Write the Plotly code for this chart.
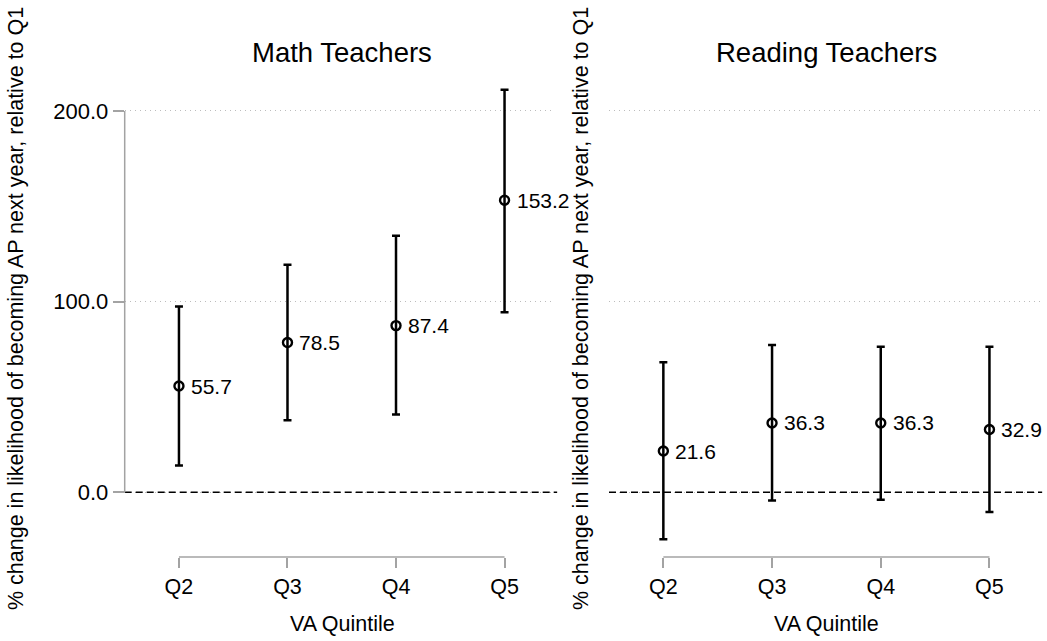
import plotly.graph_objects as go

# ---- data ----
categories = ["Q2", "Q3", "Q4", "Q5"]
x_pos = [2, 3, 4, 5]
math_est = [55.7, 78.5, 87.4, 153.2]
math_hi = [97.4, 119.3, 134.5, 211.1]
math_lo = [14.0, 37.7, 40.8, 94.4]
read_est = [21.6, 36.3, 36.3, 32.9]
read_hi = [68.2, 77.2, 76.3, 76.3]
read_lo = [-24.7, -4.4, -3.9, -10.4]
y_ticks = [0, 100, 200]
panel_titles = ["Math Teachers", "Reading Teachers"]
y_title = "% change in likelihood of becoming AP next year, relative to Q1"
x_title = "VA Quintile"

W, H = 1047, 641
FONT = "Liberation Sans, Arial, sans-serif"
AXIS_GREY = "#a3a3a3"
GRID_GREY = "#bcbcbc"
FS = 21.5

fig = go.Figure()
ann = []

def add_panel(est, hi, lo, xa, ya):
    fig.add_trace(go.Scatter(
        x=x_pos, y=est, xaxis=xa, yaxis=ya,
        mode="markers",
        marker=dict(symbol="circle-open", size=9, color="black",
                    line=dict(width=2.4, color="black")),
        error_y=dict(type="data", symmetric=False,
                     array=[h - e for h, e in zip(hi, est)],
                     arrayminus=[e - l for e, l in zip(est, lo)],
                     color="black", thickness=2.5, width=4),
        showlegend=False, cliponaxis=False,
    ))
    for xv, v in zip(x_pos, est):
        ann.append(dict(text=f"{v:.1f}", x=xv, y=v, xref=xa, yref=ya,
                        xanchor="left", yanchor="middle", xshift=10, showarrow=False,
                        font=dict(size=21, color="black", family=FONT)))

add_panel(math_est, math_hi, math_lo, "x", "y")
add_panel(read_est, read_hi, read_lo, "x2", "y2")

yb, yt = 557, 84.3
ydom = [(H - yb) / H, (H - yt) / H]
yrange = [-34, 214]
xrange = [1.5, 5.465]

common_x = dict(range=xrange, tickvals=x_pos, ticktext=categories,
                ticks="outside", ticklen=10, tickwidth=1.5, tickcolor=AXIS_GREY,
                showline=False, showgrid=False, zeroline=False,
                tickfont=dict(size=FS, color="black", family=FONT),
                automargin=False, fixedrange=True)
common_y = dict(range=yrange, domain=ydom, tickvals=y_ticks,
                showgrid=True, gridcolor=GRID_GREY, gridwidth=1, griddash="1px,4px",
                showline=False, zeroline=False, automargin=False, fixedrange=True)

fig.update_layout(
    width=W, height=H,
    margin=dict(l=0, r=0, t=0, b=0),
    paper_bgcolor="white", plot_bgcolor="white",
    font=dict(family=FONT, color="black"),
    xaxis=dict(domain=[124.7 / W, 555 / W], anchor="y", **common_x),
    xaxis2=dict(domain=[609 / W, 1040 / W], anchor="y2", **common_x),
    yaxis=dict(anchor="x", ticks="outside", ticklen=11, tickwidth=1.5,
               tickcolor=AXIS_GREY, tickformat=".1f",
               tickfont=dict(size=22, color="black", family=FONT), **common_y),
    yaxis2=dict(anchor="x2", ticks="", showticklabels=False, **common_y),
)

shapes = []
for xa, ya in [("x", "y"), ("x2", "y2")]:
    shapes.append(dict(type="line", xref=f"{xa} domain", yref=ya,
                       x0=0, x1=1.005, y0=0, y1=0,
                       line=dict(color="black", width=1.5, dash="7px,4px"), layer="above"))
    shapes.append(dict(type="line", xref=xa, yref=f"{ya} domain",
                       x0=x_pos[0], x1=x_pos[-1], y0=0, y1=0,
                       line=dict(color=AXIS_GREY, width=1.5)))
shapes.append(dict(type="line", xref="x domain", yref="y",
                   x0=0, x1=0, y0=y_ticks[0], y1=y_ticks[-1],
                   line=dict(color=AXIS_GREY, width=1.5)))
fig.update_layout(shapes=shapes)

for cx, t in [(342, panel_titles[0]), (826.5, panel_titles[1])]:
    ann.append(dict(text=t, x=cx / W, y=1 - 53 / H, xref="paper", yref="paper",
                    xanchor="center", yanchor="middle", showarrow=False,
                    font=dict(size=27.5, color="black", family=FONT)))
    ann.append(dict(text=x_title, x=cx / W, y=1 - 624 / H, xref="paper", yref="paper",
                    xanchor="center", yanchor="middle", showarrow=False,
                    font=dict(size=FS, color="black", family=FONT)))
for cx in [16, 581]:
    ann.append(dict(text=y_title, x=cx / W, y=1 - 309 / H, xref="paper", yref="paper",
                    xanchor="center", yanchor="middle", showarrow=False, textangle=-90,
                    font=dict(size=21.5, color="black", family=FONT)))
fig.update_layout(annotations=ann)

fig.write_html("out.html", config={"displayModeBar": False},
               post_script="document.body.style.margin='0';document.body.style.overflow='hidden';")
